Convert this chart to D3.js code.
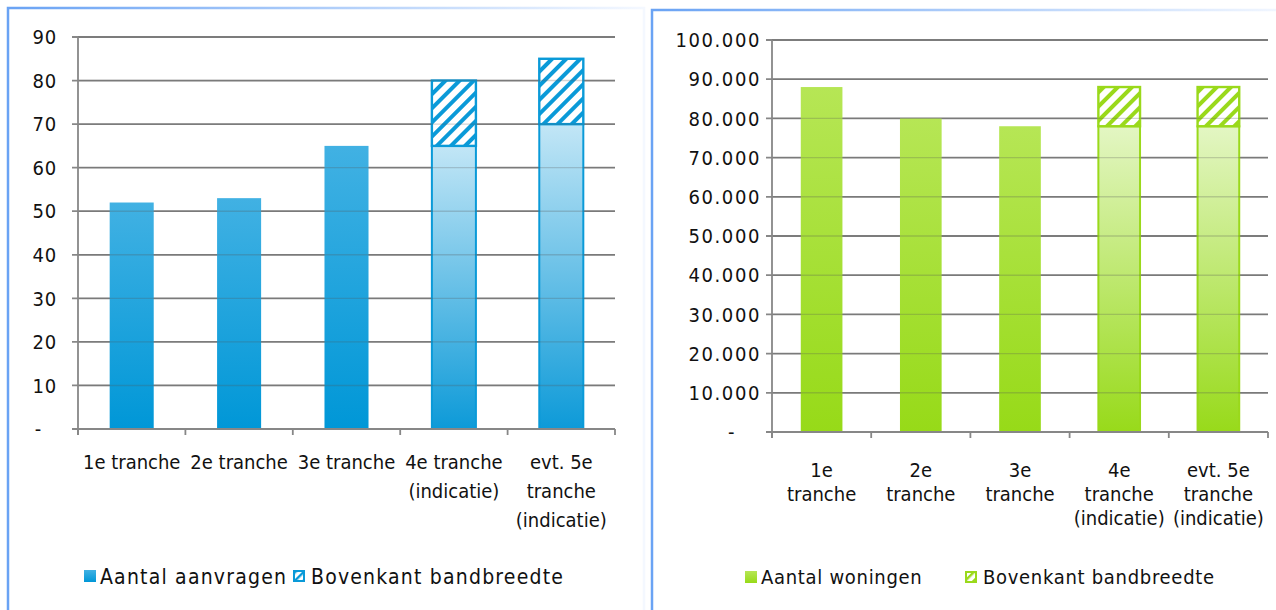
<!DOCTYPE html>
<html>
<head>
<meta charset="utf-8">
<script src="https://cdnjs.cloudflare.com/ajax/libs/d3/7.8.5/d3.min.js"></script>
<style>
  body { margin: 0; background: #fff; }
  svg text { font-family: "DejaVu Sans Condensed", "DejaVu Sans", sans-serif; fill: #111; }
</style>
</head>
<body>
<svg id="chart" width="1276" height="610"></svg>
<script>
// Categories (each entry = the wrapped lines of the label)
var categoriesLeft = [["1e tranche"], ["2e tranche"], ["3e tranche"], ["4e tranche", "(indicatie)"], ["evt. 5e", "tranche", "(indicatie)"]];
var categoriesRight = [["1e", "tranche"], ["2e", "tranche"], ["3e", "tranche"], ["4e", "tranche", "(indicatie)"], ["evt. 5e", "tranche", "(indicatie)"]];

// Series values
var aantalAanvragen = [52, 53, 65, 65, 70];
var bovenkantAanvragen = [null, null, null, 80, 85];
var aantalWoningen = [88000, 80000, 78000, 78000, 78000];
var bovenkantWoningen = [null, null, null, 88000, 88000];

// Tick values
var ticksLeft = [0, 10, 20, 30, 40, 50, 60, 70, 80, 90];
var ticksRight = [0, 10000, 20000, 30000, 40000, 50000, 60000, 70000, 80000, 90000, 100000];

var svg = d3.select("#chart");
var defs = svg.append("defs");

// panel border gradient (fades out to the right)
function borderGradient(id) {
    var g = defs.append("linearGradient").attr("id", id)
        .attr("x1", 0).attr("x2", 1).attr("y1", 0).attr("y2", 0);
    g.append("stop").attr("offset", "0%").attr("stop-color", "#6aa3f4");
    g.append("stop").attr("offset", "100%").attr("stop-color", "#f4f8ff");
}
borderGradient("borderGrad");

// vertical gradient for bars
function barGradient(id, top, bottom) {
    var g = defs.append("linearGradient").attr("id", id)
        .attr("x1", 0).attr("x2", 0).attr("y1", 0).attr("y2", 1);
    g.append("stop").attr("offset", "0%").attr("stop-color", top);
    g.append("stop").attr("offset", "100%").attr("stop-color", bottom);
}

// hatch pattern "/"
function hatch(id, color, size) {
    var p = defs.append("pattern").attr("id", id)
        .attr("patternUnits", "userSpaceOnUse")
        .attr("width", size).attr("height", size)
        .attr("patternTransform", "rotate(45)");
    p.append("rect").attr("width", size).attr("height", size).attr("fill", "#fff");
    p.append("rect").attr("width", size * 0.4).attr("height", size).attr("fill", color);
}

barGradient("blueSolid", "#41b1e3", "#0097d7");
barGradient("blueLight", "#c2e6f6", "#0d9ad8");
barGradient("greenSolid", "#b6e655", "#97da18");
barGradient("greenLight", "#e3f6c3", "#98da1a");
hatch("blueHatch", "#0a9ad8", 10);
hatch("greenHatch", "#9ad91b", 10);
hatch("blueHatchSmall", "#0a9ad8", 6);
hatch("greenHatchSmall", "#9ad91b", 6);

// panel frames
svg.append("rect").attr("x", 8).attr("y", 8).attr("width", 636).attr("height", 620)
    .attr("fill", "none").attr("stroke", "url(#borderGrad)").attr("stroke-width", 2.5);
svg.append("rect").attr("x", 652).attr("y", 10).attr("width", 640).attr("height", 620)
    .attr("fill", "none").attr("stroke", "url(#borderGrad)").attr("stroke-width", 2.5);

function drawChart(opt) {
    var g = svg.append("g");

    var x = d3.scaleBand()
        .domain(d3.range(opt.categories.length))
        .range([opt.left, opt.right])
        .padding(0);

    var y = d3.scaleLinear()
        .domain([0, opt.max])
        .range([opt.bottom, opt.top]);

    var barW = x.bandwidth() * opt.barRatio;
    var gridColor = "#878787";

    // gridlines (behind bars)
    g.append("g").selectAll("line")
        .data(opt.ticks.slice(1))
        .enter().append("line")
        .attr("x1", opt.left - 6).attr("x2", opt.right)
        .attr("y1", d => y(d)).attr("y2", d => y(d))
        .attr("stroke", gridColor).attr("stroke-width", 1.8);

    // solid / base bars
    g.append("g").selectAll("rect")
        .data(opt.values)
        .enter().append("rect")
        .attr("x", (d, i) => x(i) + (x.bandwidth() - barW) / 2)
        .attr("y", d => y(d))
        .attr("width", barW)
        .attr("height", d => y(0) - y(d))
        .attr("fill", (d, i) => opt.upper[i] == null ? opt.solidFill : opt.lightFill)
        .attr("stroke", (d, i) => opt.upper[i] == null ? "none" : opt.color)
        .attr("stroke-width", 2);

    // hatched upper part
    g.append("g").selectAll("rect")
        .data(opt.upper.map((u, i) => ({ i: i, lo: opt.values[i], hi: u })).filter(d => d.hi != null))
        .enter().append("rect")
        .attr("x", d => x(d.i) + (x.bandwidth() - barW) / 2)
        .attr("y", d => y(d.hi))
        .attr("width", barW)
        .attr("height", d => y(d.lo) - y(d.hi))
        .attr("fill", opt.hatchFill)
        .attr("stroke", opt.color)
        .attr("stroke-width", 2.4);

    // faint gridlines over bars
    g.append("g").selectAll("line")
        .data(opt.ticks.slice(1))
        .enter().append("line")
        .attr("x1", opt.left).attr("x2", opt.right)
        .attr("y1", d => y(d)).attr("y2", d => y(d))
        .attr("stroke", "#555").attr("stroke-width", 1.4)
        .attr("stroke-opacity", 0.25);

    // axes
    g.append("line")
        .attr("x1", opt.left).attr("x2", opt.left)
        .attr("y1", y(opt.max)).attr("y2", y(0) + 6)
        .attr("stroke", gridColor).attr("stroke-width", 1.8);
    g.append("line")
        .attr("x1", opt.left - 6).attr("x2", opt.right)
        .attr("y1", y(0)).attr("y2", y(0))
        .attr("stroke", gridColor).attr("stroke-width", 1.8);
    g.append("g").selectAll("line")
        .data(d3.range(opt.categories.length + 1))
        .enter().append("line")
        .attr("x1", i => opt.left + i * x.step()).attr("x2", i => opt.left + i * x.step())
        .attr("y1", y(0)).attr("y2", y(0) + 6)
        .attr("stroke", gridColor).attr("stroke-width", 1.8);

    // y tick labels
    g.append("g").selectAll("text")
        .data(opt.ticks)
        .enter().append("text")
        .attr("x", d => d === 0 ? opt.left - opt.tickGap - opt.dashShift : opt.left - opt.tickGap)
        .attr("y", d => y(d))
        .attr("dy", "0.36em")
        .attr("text-anchor", "end")
        .style("font-size", "20px")
        .style("letter-spacing", opt.tickSpacing + "px")
        .text(d => d === 0 ? "-" : opt.format(d));

    // x labels
    var labels = g.append("g").selectAll("text")
        .data(opt.categories)
        .enter().append("text")
        .attr("text-anchor", "middle")
        .style("font-size", "20px")
        .attr("transform", (d, i) => `translate(${x(i) + x.bandwidth() / 2}, ${opt.labelY})`);
    labels.selectAll("tspan")
        .data(d => d)
        .enter().append("tspan")
        .attr("x", 0)
        .attr("y", (d, j) => j * opt.lineH)
        .text(d => d);

    // legend
    var leg = g.append("g");
    leg.append("rect")
        .attr("x", opt.legend[0]).attr("y", opt.legendY - 6)
        .attr("width", 12).attr("height", 12)
        .attr("fill", opt.solidFill);
    leg.append("text")
        .attr("x", opt.legend[0] + 16).attr("y", opt.legendY)
        .attr("dy", "0.36em")
        .style("font-size", opt.legendSize + "px")
        .style("letter-spacing", opt.legendSpacing + "px")
        .text(opt.names[0]);
    leg.append("rect")
        .attr("x", opt.legend[1] + 1).attr("y", opt.legendY - 5)
        .attr("width", 10).attr("height", 10)
        .attr("fill", opt.hatchSmall)
        .attr("stroke", opt.color).attr("stroke-width", 2);
    leg.append("text")
        .attr("x", opt.legend[1] + 18).attr("y", opt.legendY)
        .attr("dy", "0.36em")
        .style("font-size", opt.legendSize + "px")
        .style("letter-spacing", opt.legendSpacing + "px")
        .text(opt.names[1]);
}

drawChart({
    categories: categoriesLeft,
    values: aantalAanvragen,
    upper: bovenkantAanvragen,
    ticks: ticksLeft,
    max: 90,
    left: 78, right: 615, top: 37, bottom: 429,
    barRatio: 0.41,
    color: "#0a9ad8",
    solidFill: "url(#blueSolid)",
    lightFill: "url(#blueLight)",
    hatchFill: "url(#blueHatch)",
    hatchSmall: "url(#blueHatchSmall)",
    format: d3.format("d"),
    tickGap: 21,
    tickSpacing: 0.8,
    dashShift: 15,
    labelY: 469, lineH: 29,
    legend: [84, 293], legendY: 576,
    legendSize: 21, legendSpacing: 1.2,
    names: ["Aantal aanvragen", "Bovenkant bandbreedte"]
});

drawChart({
    categories: categoriesRight,
    values: aantalWoningen,
    upper: bovenkantWoningen,
    ticks: ticksRight,
    max: 100000,
    left: 772, right: 1268, top: 40, bottom: 432,
    barRatio: 0.42,
    color: "#9ad91b",
    solidFill: "url(#greenSolid)",
    lightFill: "url(#greenLight)",
    hatchFill: "url(#greenHatch)",
    hatchSmall: "url(#greenHatchSmall)",
    format: d => d3.format(",")(d).replace(/,/g, "."),
    tickGap: 11,
    tickSpacing: 1.6,
    dashShift: 25,
    labelY: 477, lineH: 24,
    legend: [745, 965], legendY: 577,
    legendSize: 20, legendSpacing: 0.7,
    names: ["Aantal woningen", "Bovenkant bandbreedte"]
});
</script>
</body>
</html>
